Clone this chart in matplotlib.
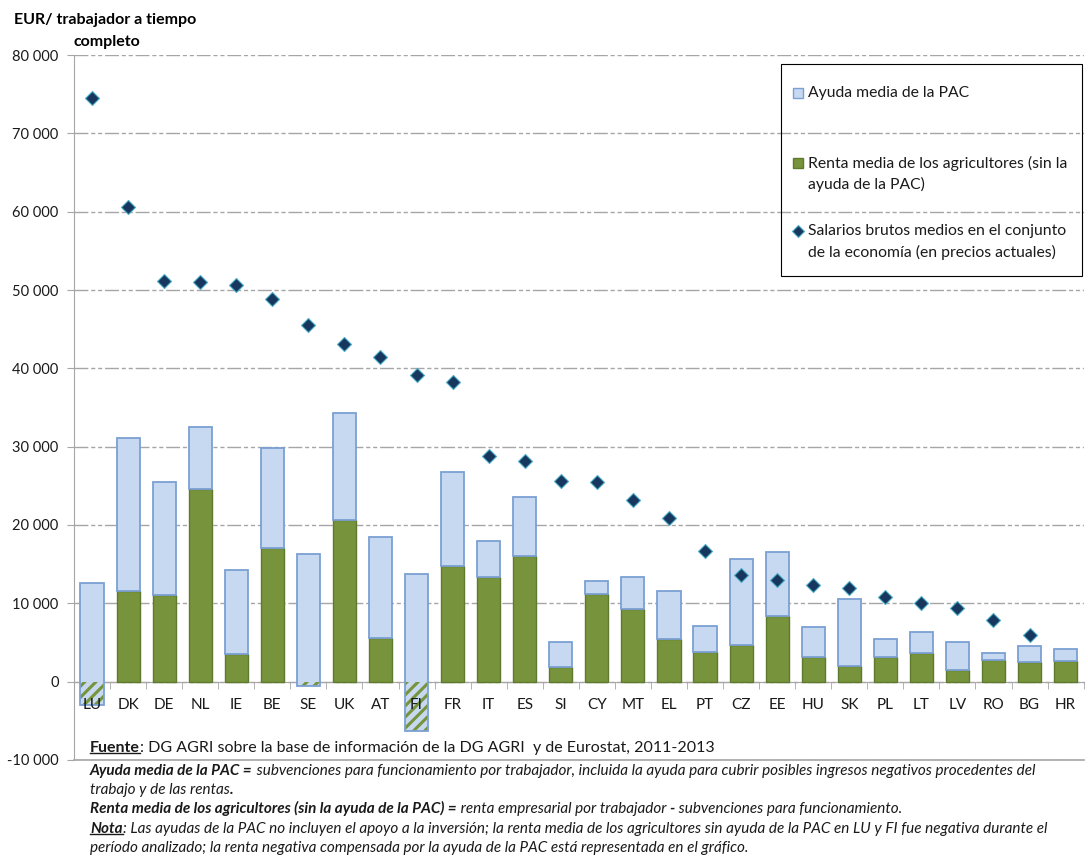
import matplotlib
matplotlib.use("Agg")
import matplotlib.pyplot as plt
import numpy as np
from matplotlib.patches import Rectangle
from matplotlib.lines import Line2D
from matplotlib.ticker import FuncFormatter, MultipleLocator, FixedLocator
from matplotlib.transforms import IdentityTransform

plt.rcParams['font.family'] = ['Lato', 'DejaVu Sans']
plt.rcParams['hatch.linewidth'] = 2.2

# datos (EUR / trabajador a tiempo completo)
paises = ['LU', 'DK', 'DE', 'NL', 'IE', 'BE', 'SE', 'UK', 'AT', 'FI', 'FR', 'IT', 'ES', 'SI',
          'CY', 'MT', 'EL', 'PT', 'CZ', 'EE', 'HU', 'SK', 'PL', 'LT', 'LV', 'RO', 'BG', 'HR']
renta = [-3000, 11600, 11100, 24600, 3500, 17100, -500, 20700, 5600, -6300, 14800, 13400, 16100, 1900,
         11200, 9300, 5500, 3800, 4700, 8400, 3200, 2000, 3100, 3600, 1500, 2800, 2500, 2700]
ayuda = [15600, 19500, 14400, 7900, 10800, 12700, 16800, 13600, 12900, 20000, 12000, 4500, 7500, 3100,
         1600, 4000, 6100, 3300, 11000, 8200, 3800, 8600, 2400, 2700, 3500, 900, 2100, 1500]
salarios = [74500, 60600, 51200, 51000, 50600, 48800, 45500, 43100, 41500, 39200, 38300, 28800, 28200, 25600,
            25500, 23200, 20900, 16700, 13600, 13000, 12300, 12000, 10800, 10100, 9400, 7900, 6000, np.nan]

verde = '#77933C'
verde_borde = '#5E7A2C'
azul = '#C6D9F1'
azul_borde = '#7BA0D4'
gris = '#A6A6A6'
texto_col = '#1a1a1a'
rombo = '#17375E'
rombo_borde = '#4BACC6'

fig = plt.figure(figsize=(10.88, 8.57), dpi=100)
ax = fig.add_axes([0.068, 0.1132, 0.928, 0.8226])

x = np.arange(len(paises))
renta = np.array(renta, dtype=float)
ayuda = np.array(ayuda, dtype=float)
w = 0.64

ax.bar(x, np.clip(renta, 0, None), width=w, color=verde, edgecolor=verde_borde, lw=1, zorder=3)
ax.bar(x, ayuda, bottom=renta, width=w, color=azul, lw=0, zorder=3)
neg = np.clip(renta, None, 0)
ax.bar(x, -neg, bottom=neg, width=w, facecolor='none', edgecolor=verde, hatch='///', lw=0, zorder=4)
ax.bar(x, ayuda, bottom=renta, width=w, facecolor='none', edgecolor=azul_borde, lw=1.3, zorder=5)

ax.plot(x, salarios, ls='none', marker='D', ms=7.5, color=rombo, mec=rombo_borde, mew=0.8, zorder=6)

ax.set_xlim(-0.5, len(paises) - 0.5)
ax.set_ylim(-10000, 80000)
ax.yaxis.set_major_locator(MultipleLocator(10000))
ax.yaxis.set_major_formatter(FuncFormatter(lambda v, p: f"{int(v):,}".replace(',', ' ')))
ax.grid(axis='y', color=gris, lw=1, ls=(0, (10, 2, 3, 2, 3, 2)), zorder=1)

for s in ['top', 'right']:
    ax.spines[s].set_visible(False)
ax.spines['left'].set_color(gris)
ax.spines['bottom'].set_color(gris)
ax.spines['bottom'].set_position(('data', 0))
ax.axhline(-10000, color=gris, lw=1.2, clip_on=False, zorder=2)

ax.set_xticks(x)
ax.set_xticklabels(paises)
ax.xaxis.set_minor_locator(FixedLocator(np.arange(len(paises) + 1) - 0.5))
ax.tick_params(axis='x', which='major', length=0, pad=12, labelsize=11, labelcolor=texto_col)
ax.tick_params(axis='x', which='minor', length=5, color=gris)
ax.tick_params(axis='y', length=5, pad=6, color=gris, labelsize=10.5, labelcolor=texto_col)
ax.xaxis.set_zorder(7)


# leyenda dibujada a mano (posiciones en pixeles de la figura)
def px(xp, yp):
    return ((xp - 74) / 1010, (760 - yp) / 705)


ax.add_patch(Rectangle(px(781, 276), 301 / 1010, 212 / 705, transform=ax.transAxes, fill=False,
                       edgecolor='black', lw=0.8, clip_on=False, zorder=8))
entradas = [
    ('cuadro', azul, azul_borde, 93, ['Ayuda media de la PAC']),
    ('cuadro', verde, verde_borde, 163, ['Renta media de los agricultores (sin la', 'ayuda de la PAC)']),
    ('rombo', rombo, rombo_borde, 231, ['Salarios brutos medios en el conjunto', 'de la economía (en precios actuales)']),
]
for tipo, fc, ec, yc, lineas_leg in entradas:
    if tipo == 'cuadro':
        ax.add_patch(Rectangle(px(793, yc + 5), 10 / 1010, 10 / 705, transform=ax.transAxes,
                               facecolor=fc, edgecolor=ec, lw=1, clip_on=False, zorder=8))
    else:
        ax.plot(*px(798, yc), transform=ax.transAxes, marker='D', ms=6, color=fc, mec=ec, mew=0.8,
                clip_on=False, zorder=8)
    for k, linea in enumerate(lineas_leg):
        ax.text(*px(808, yc + 21 * k), linea, transform=ax.transAxes, fontsize=11.3, va='center',
                ha='left', color=texto_col, zorder=8)

fig.text(14 / 1088, 1 - 20 / 857, 'EUR/ trabajador a tiempo', fontsize=11.5, fontweight='bold', va='center')
fig.text(73 / 1088, 1 - 42 / 857, 'completo', fontsize=11.5, fontweight='bold', va='center')

# notas al pie: (y en pixeles, [(texto, peso, estilo, subrayado, tamaño)])
lineas = [
    (748, [('Fuente', 'bold', 'normal', True, 11.5),
           (': DG AGRI sobre la base de información de la DG AGRI  y de Eurostat, 2011-2013', 'normal', 'normal', False, 11.5)]),
    (771, [('Ayuda media de la PAC =', 'bold', 'italic', False, 11),
           (' subvenciones para funcionamiento por trabajador, incluida la ayuda para cubrir posibles ingresos negativos procedentes del', 'normal', 'italic', False, 11)]),
    (790, [('trabajo y de las rentas', 'normal', 'italic', False, 11), ('.', 'bold', 'italic', False, 11)]),
    (808, [('Renta media de los agricultores (sin la ayuda de la PAC) =', 'bold', 'italic', False, 11),
           (' renta empresarial por trabajador ', 'normal', 'italic', False, 11),
           ('-', 'bold', 'italic', False, 11),
           (' subvenciones para funcionamiento.', 'normal', 'italic', False, 11)]),
    (829, [('Nota', 'bold', 'italic', True, 11),
           (': Las ayudas de la PAC no incluyen el apoyo a la inversión; la renta media de los agricultores sin ayuda de la PAC en LU y FI fue negativa durante el', 'normal', 'italic', False, 11)]),
    (848, [('período analizado; la renta negativa compensada por la ayuda de la PAC está representada en el gráfico.', 'normal', 'italic', False, 11)]),
]

subrayar = []
encadenados = []
for ypix, trozos in lineas:
    prev = None
    for texto, peso, estilo, sub, tam in trozos:
        if prev is None:
            t = fig.text(90 / 1088, 1 - ypix / 857, texto, fontsize=tam, fontweight=peso,
                         fontstyle=estilo, va='center', color=texto_col)
        else:
            t = fig.text(0, 0, texto, fontsize=tam, fontweight=peso, fontstyle=estilo,
                         va='bottom', ha='left', color=texto_col)
            encadenados.append((t, prev))
        if sub:
            subrayar.append(t)
        prev = t

# colocar los trozos uno tras otro
fig.canvas.draw()
r = fig.canvas.get_renderer()
for t, prev in encadenados:
    bb = prev.get_window_extent(r)
    t.set_transform(IdentityTransform())
    t.set_position((bb.x1, bb.y0))
fig.canvas.draw()
for t in subrayar:
    bb = t.get_window_extent(r)
    yl = bb.y0 + 2.5
    fig.add_artist(Line2D([bb.x0, bb.x1], [yl, yl], transform=IdentityTransform(),
                          color=texto_col, lw=1))

fig.savefig('out.png', dpi=100)
